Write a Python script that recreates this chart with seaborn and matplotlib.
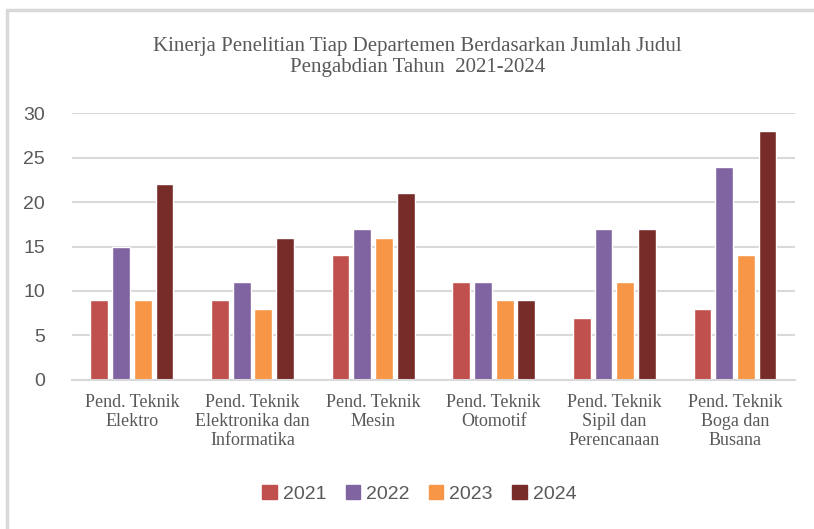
import matplotlib
matplotlib.use("Agg")
import matplotlib.pyplot as plt
import seaborn as sns
import pandas as pd
from matplotlib.lines import Line2D

departments = [
    "Pend. Teknik\nElektro",
    "Pend. Teknik\nElektronika dan\nInformatika",
    "Pend. Teknik\nMesin",
    "Pend. Teknik\nOtomotif",
    "Pend. Teknik\nSipil dan\nPerencanaan",
    "Pend. Teknik\nBoga dan\nBusana",
]
years = ["2021", "2022", "2023", "2024"]
v2021 = [9, 9, 14, 11, 7, 8]
v2022 = [15, 11, 17, 11, 17, 24]
v2023 = [9, 8, 16, 9, 11, 14]
v2024 = [22, 16, 21, 9, 17, 28]
colors = ["#C0504D", "#8064A2", "#F79646", "#772C2A"]

rows = []
for year, vals in zip(years, [v2021, v2022, v2023, v2024]):
    for dept, v in zip(departments, vals):
        rows.append({"dept": dept, "year": year, "count": v})
df = pd.DataFrame(rows)

sns.set_style("white")
fig = plt.figure(figsize=(8.14, 5.29), dpi=100)
ax = fig.add_axes([0.088, 0.282, 0.889, 0.504])

sns.barplot(data=df, x="dept", y="count", hue="year", palette=colors,
            width=0.72, gap=0.18, ax=ax, legend=False, saturation=1)

ax.set_ylim(0, 30)
ax.set_yticks(range(0, 31, 5))
ax.yaxis.grid(True, color="#D9D9D9", linewidth=1.5)
ax.set_axisbelow(True)
for s in ["top", "right", "left"]:
    ax.spines[s].set_visible(False)
ax.spines["bottom"].set_color("#D9D9D9")
ax.spines["bottom"].set_linewidth(1.5)
ax.tick_params(axis="both", length=0)
ax.tick_params(axis="y", pad=19, labelsize=14, labelcolor="#595959")
ax.set_xlabel("")
ax.set_ylabel("")
ax.set_xticks(range(len(departments)))
ax.set_xticklabels(departments, family="Liberation Serif", fontsize=13,
                   color="#595959", linespacing=1.15)
ax.tick_params(axis="x", pad=10)
for lab in ax.get_yticklabels():
    lab.set_family("Liberation Sans")

fig.text(0.513, 0.892, "Kinerja Penelitian Tiap Departemen Berdasarkan Jumlah Judul\nPengabdian Tahun  2021-2024",
         ha="center", va="center", family="Liberation Serif", fontsize=15,
         color="#595959", linespacing=1.1)

handles = [plt.Rectangle((0, 0), 1, 1, color=c) for c in colors]
fig.legend(handles, years, loc="center", bbox_to_anchor=(0.515, 0.066), ncol=4,
           frameon=False, prop={"family": "Liberation Sans", "size": 14},
           labelcolor="#595959", handlelength=0.75, handleheight=0.75,
           handletextpad=0.3, columnspacing=1.0)

# border of the chart frame (top and left)
fig.add_artist(Line2D([0.009, 1.0], [0.982, 0.982], color="#D9D9D9", linewidth=2.5))
fig.add_artist(Line2D([0.009, 0.009], [0.0, 0.982], color="#D9D9D9", linewidth=2.5))

fig.savefig("out.png", dpi=100)
